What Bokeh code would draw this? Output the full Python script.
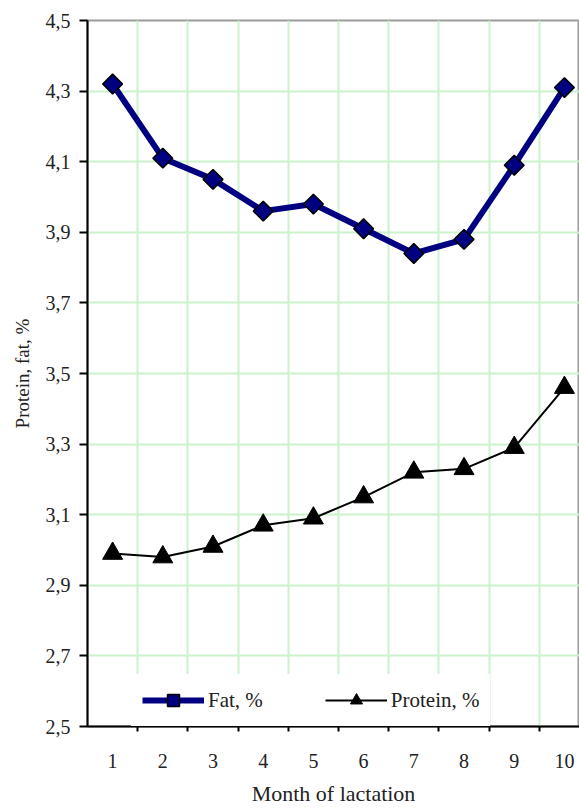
import numpy as np
from bokeh.plotting import figure
from bokeh.models import (FixedTicker, Legend, LegendItem, Range1d, ColumnDataSource)
from bokeh.embed import file_html
from bokeh.resources import INLINE

months = [1, 2, 3, 4, 5, 6, 7, 8, 9, 10]
month_labels = ["1", "2", "3", "4", "5", "6", "7", "8", "9", "10"]
fat = [4.32, 4.11, 4.05, 3.96, 3.98, 3.91, 3.84, 3.88, 4.09, 4.31]
protein = [2.99, 2.98, 3.01, 3.07, 3.09, 3.15, 3.22, 3.23, 3.29, 3.46]
y_ticks = [2.5, 2.7, 2.9, 3.1, 3.3, 3.5, 3.7, 3.9, 4.1, 4.3, 4.5]
y_tick_labels = ["2,5", "2,7", "2,9", "3,1", "3,3", "3,5", "3,7", "3,9", "4,1", "4,3", "4,5"]
boundaries = [1.5, 2.5, 3.5, 4.5, 5.5, 6.5, 7.5, 8.5, 9.5]

FONT = "Liberation Serif"

p = figure(width=579, height=810, output_backend="svg", toolbar_location=None,
           x_range=Range1d(0.5, 10.3), y_range=Range1d(2.5, 4.5),
           min_border_left=87, min_border_top=20, min_border_right=0, min_border_bottom=84)
p.background_fill_color = "white"
p.outline_line_color = "#9a9a9a"
p.outline_line_width = 2

# grids
p.xgrid.ticker = FixedTicker(ticks=boundaries)
p.ygrid.ticker = FixedTicker(ticks=y_ticks[1:-1])
for g in (p.xgrid, p.ygrid):
    g.grid_line_color = "#ccf2cc"
    g.grid_line_width = 2

# axes
xa = p.xaxis[0]
xa.ticker = FixedTicker(ticks=months, minor_ticks=boundaries)
xa.major_label_overrides = {m: l for m, l in zip(months, month_labels)}
xa.major_tick_line_color = None
xa.major_tick_out = 0
xa.major_tick_in = 0
xa.minor_tick_out = 5
xa.minor_tick_in = 0
xa.minor_tick_line_color = "black"
xa.minor_tick_line_width = 2
xa.axis_line_color = "black"
xa.axis_line_width = 2
xa.major_label_standoff = 22
xa.axis_label = "Month of lactation"
xa.axis_label_standoff = 10

ya = p.yaxis[0]
ya.ticker = FixedTicker(ticks=y_ticks)
ya.major_label_overrides = {t: l for t, l in zip(y_ticks, y_tick_labels)}
ya.major_tick_out = 8
ya.major_tick_in = 0
ya.minor_tick_line_color = None
ya.major_tick_line_width = 2
ya.axis_line_width = 2
ya.axis_line_color = "black"
ya.major_label_standoff = 9
ya.axis_label = "Protein, fat, %"
ya.axis_label_standoff = 10

for ax in (xa, ya):
    ax.major_label_text_font = FONT
    ax.major_label_text_font_size = "20px"
    ax.major_label_text_color = "#222222"
    ax.axis_label_text_font = FONT
    ax.axis_label_text_font_style = "normal"
    ax.axis_label_text_color = "#222222"
xa.axis_label_text_font_size = "22px"
ya.axis_label_text_font_size = "19px"

src = ColumnDataSource(dict(x=months, fat=fat, protein=protein))

fl = p.line("x", "fat", source=src, line_color="#000080", line_width=6)
fs = p.scatter("x", "fat", source=src, marker="square", angle=np.pi / 4, size=14,
               fill_color="#000080", line_color="black", line_width=1.5)
pl = p.line("x", "protein", source=src, line_color="black", line_width=2)
ps = p.scatter("x", "protein", source=src, marker="triangle", size=20,
               fill_color="black", line_color="black")

legend = Legend(items=[LegendItem(label="Fat, %", renderers=[fl, fs]),
                       LegendItem(label="Protein, %", renderers=[pl, ps])],
                orientation="horizontal", location=(44, 0),
                border_line_color="white", border_line_width=1,
                background_fill_color="white",
                background_fill_alpha=1.0, padding=10, margin=0,
                glyph_width=62, glyph_height=30, label_standoff=4, spacing=62,
                label_text_font=FONT, label_text_font_size="21px",
                label_text_color="#222222")
p.add_layout(legend, "center")

open("out.html", "w").write(file_html(p, INLINE))
